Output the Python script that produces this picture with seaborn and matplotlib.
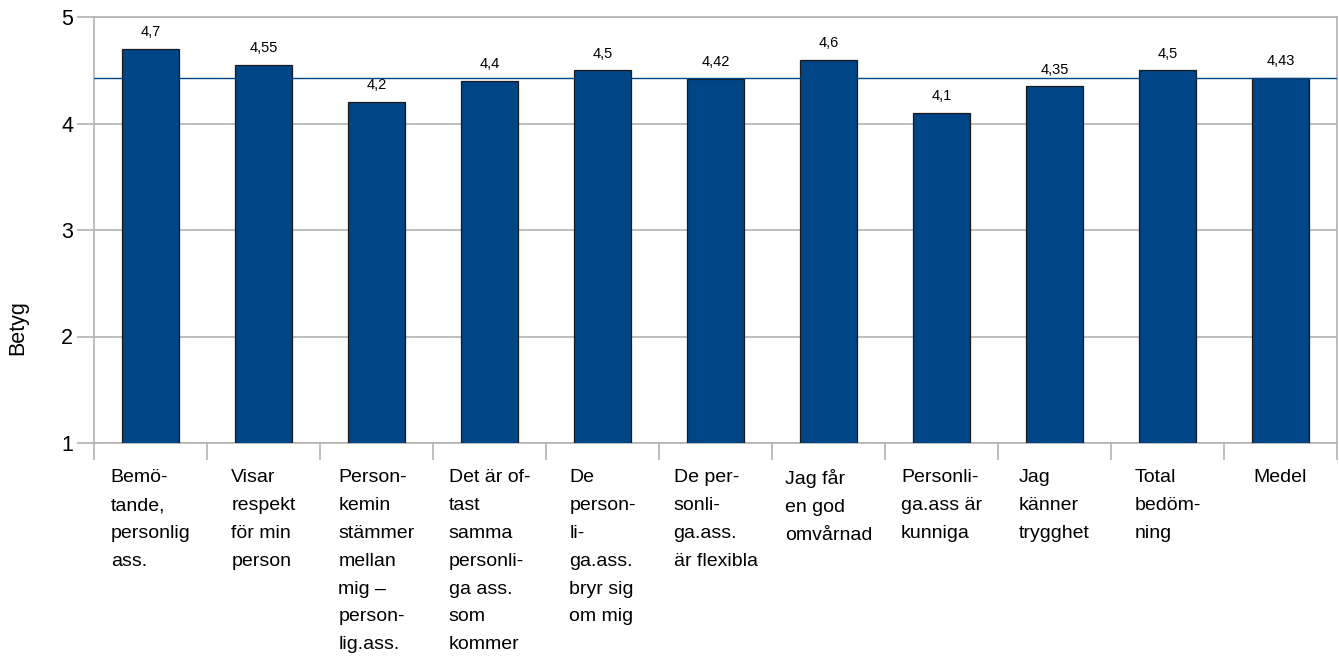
import matplotlib
matplotlib.use('Agg')
import matplotlib.pyplot as plt
import seaborn as sns
import pandas as pd

# bar labels as shown in the chart (already wrapped)
categories = [
    'Bemö-\ntande,\npersonlig\nass.',
    'Visar\nrespekt\nför min\nperson',
    'Person-\nkemin\nstämmer\nmellan\nmig –\nperson-\nlig.ass.',
    'Det är of-\ntast\nsamma\npersonli-\nga ass.\nsom\nkommer',
    'De\nperson-\nli-\nga.ass.\nbryr sig\nom mig',
    'De per-\nsonli-\nga.ass.\när flexibla',
    'Jag får\nen god\nomvårnad',
    'Personli-\nga.ass är\nkunniga',
    'Jag\nkänner\ntrygghet',
    'Total\nbedöm-\nning',
    'Medel',
]
values = [4.7, 4.55, 4.2, 4.4, 4.5, 4.42, 4.6, 4.1, 4.35, 4.5, 4.43]
value_labels = ['4,7', '4,55', '4,2', '4,4', '4,5', '4,42', '4,6', '4,1', '4,35', '4,5', '4,43']
mean_value = 4.43
y_ticks = [1, 2, 3, 4, 5]

bar_color = '#004586'
grid_color = '#b3b3b3'

sns.set_style('white')
plt.rcParams['font.family'] = ['Liberation Sans', 'DejaVu Sans']
plt.rcParams['text.color'] = 'black'

df = pd.DataFrame({'kategori': categories, 'betyg': values})

fig = plt.figure(figsize=(13.39, 6.56), dpi=100)
ax = fig.add_axes([94 / 1339, 1 - 443 / 656, (1337 - 94) / 1339, (443 - 17) / 656])

sns.barplot(data=df, x='kategori', y='betyg', color=bar_color, saturation=1,
            width=0.5, edgecolor='#1a1a1a', linewidth=0.9, ax=ax, zorder=3)

ax.set_ylim(1, 5)
ax.set_xlim(-0.5, len(categories) - 0.5)
ax.set_yticks(y_ticks)
ax.set_yticklabels([str(t) for t in y_ticks], fontsize=15.5)
ax.yaxis.grid(True, color=grid_color, linewidth=1.2, zorder=0)
ax.tick_params(axis='y', left=True, length=12, width=1.2, color=grid_color,
               labelcolor='black', pad=3)

# category boundary ticks under the x axis
ax.set_xticks([i - 0.5 for i in range(len(categories) + 1)])
ax.set_xticklabels([])
ax.tick_params(axis='x', bottom=True, length=12, width=1.2, color=grid_color, direction='out')
for s in ax.spines.values():
    s.set_color(grid_color)
    s.set_linewidth(1.2)

ax.axhline(mean_value, color=bar_color, linewidth=1.0, zorder=4)

for i, (v, lab) in enumerate(zip(values, value_labels)):
    ax.annotate(lab, (i, v), xytext=(0, 7), textcoords='offset points',
                ha='center', va='bottom', fontsize=10.5, color='black')

for i, cat in enumerate(categories):
    ax.annotate(cat, (i, 0), xycoords=('data', 'axes fraction'),
                xytext=(0, -19), textcoords='offset points',
                ha='center', va='top', multialignment='left',
                fontsize=14, linespacing=1.83, color='black')

ax.set_xlabel('')
ax.set_ylabel('')
fig.text(18 / 1339, 0.5, 'Betyg', rotation=90, ha='center', va='center',
         fontsize=15.5, color='black')

fig.savefig('out.png', dpi=100)
